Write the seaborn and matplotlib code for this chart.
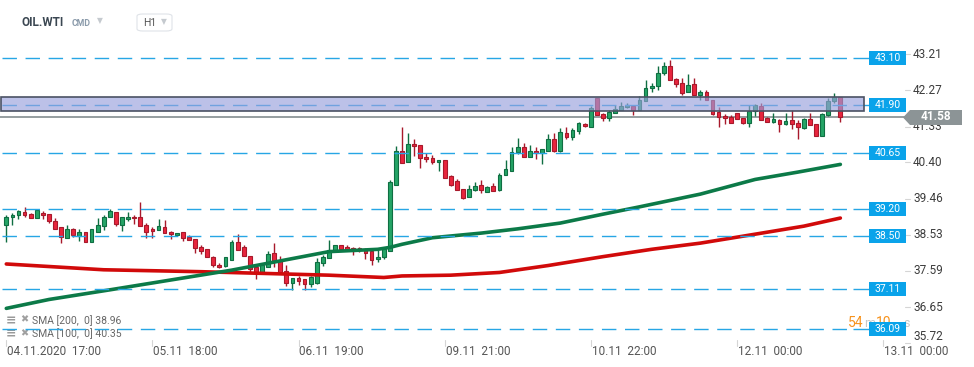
import matplotlib
matplotlib.use("Agg")
import matplotlib.pyplot as plt
from matplotlib.patches import Rectangle, Polygon, FancyBboxPatch
import seaborn as sns

# hourly OHLC for OIL.WTI, 04.11.2020 17:00 onwards
opens = [38.77, 38.98, 39.03, 39.11, 39.06, 38.95, 39.09, 39.06, 38.88, 38.72,
         38.44, 38.67, 38.49, 38.59, 38.33, 38.59, 38.75, 38.98, 39.11, 38.77,
         38.93, 39.00, 38.98, 38.77, 38.67, 38.64, 38.72, 38.59, 38.51, 38.59,
         38.46, 38.41, 38.20, 38.15, 37.94, 37.74, 37.71, 37.87, 38.33, 38.20,
         37.97, 37.68, 37.55, 37.68, 38.05, 37.84, 37.58, 37.29, 37.40, 37.37,
         37.24, 37.27, 37.79, 37.92, 38.10, 38.25, 38.20, 38.18, 38.18, 38.12,
         38.10, 37.89, 37.94, 38.10, 39.82, 40.71, 40.40, 40.87, 40.84, 40.53,
         40.51, 40.40, 40.46, 40.04, 39.91, 39.70, 39.50, 39.68, 39.81, 39.63,
         39.78, 39.68, 40.07, 40.17, 40.66, 40.79, 40.53, 40.71, 40.64, 40.71,
         41.00, 40.69, 41.16, 41.05, 41.21, 41.39, 41.31, 42.06, 41.65, 41.54,
         41.67, 41.75, 41.83, 41.85, 41.75, 41.98, 42.32, 42.37, 42.71, 42.90,
         42.55, 42.45, 42.22, 42.42, 42.16, 42.22, 42.03, 41.70, 41.60, 41.57,
         41.67, 41.54, 41.41, 41.73, 41.85, 41.54, 41.44, 41.49, 41.39, 41.49,
         41.41, 41.28, 41.52, 41.39, 41.08, 41.62, 41.98, 42.09]
highs = [39.04, 39.08, 39.17, 39.24, 39.08, 39.16, 39.13, 39.06, 38.95, 38.72,
         38.77, 38.69, 38.67, 38.59, 38.67, 38.95, 39.03, 39.19, 39.11, 38.98,
         39.11, 39.03, 39.37, 38.82, 38.72, 38.93, 38.90, 38.62, 38.56, 38.59,
         38.51, 38.41, 38.25, 38.15, 37.97, 37.79, 37.94, 38.38, 38.54, 38.25,
         37.97, 37.68, 37.79, 38.10, 38.31, 37.97, 37.74, 37.40, 37.47, 37.37,
         37.47, 37.92, 37.99, 38.38, 38.25, 38.25, 38.26, 38.22, 38.22, 38.18,
         38.13, 38.13, 38.20, 39.95, 40.82, 41.32, 41.16, 41.00, 40.84, 40.64,
         40.59, 40.46, 40.46, 40.07, 39.96, 39.70, 39.81, 39.89, 39.94, 39.78,
         39.86, 40.12, 40.46, 40.79, 41.03, 40.90, 40.84, 40.79, 40.74, 41.13,
         41.16, 41.28, 41.31, 41.28, 41.44, 41.41, 41.85, 42.06, 41.67, 41.75,
         41.88, 41.96, 41.93, 41.85, 42.11, 42.53, 42.45, 42.89, 43.00, 43.05,
         42.58, 42.58, 42.68, 42.58, 42.27, 42.27, 42.03, 41.83, 41.65, 41.62,
         41.67, 41.54, 41.88, 41.91, 41.93, 41.57, 41.67, 41.52, 41.67, 41.75,
         41.49, 41.54, 41.67, 41.39, 41.67, 42.06, 42.20, 42.09]
lows = [38.35, 38.79, 38.93, 38.98, 38.95, 38.95, 38.94, 38.82, 38.67, 38.31,
        38.44, 38.46, 38.36, 38.33, 38.33, 38.59, 38.64, 38.98, 38.76, 38.62,
        38.88, 38.80, 38.75, 38.44, 38.44, 38.64, 38.56, 38.41, 38.51, 38.36,
        38.38, 38.05, 38.02, 37.94, 37.70, 37.66, 37.68, 37.87, 38.12, 37.97,
        37.55, 37.37, 37.53, 37.68, 37.70, 37.55, 37.21, 37.09, 37.22, 37.10,
        37.17, 37.24, 37.71, 37.92, 38.10, 38.12, 38.12, 38.01, 38.08, 37.91,
        37.75, 37.83, 37.91, 38.10, 39.82, 40.38, 40.40, 40.56, 40.25, 40.40,
        40.35, 40.17, 39.99, 39.78, 39.68, 39.45, 39.50, 39.65, 39.60, 39.63,
        39.65, 39.65, 40.07, 40.17, 40.61, 40.53, 40.53, 40.48, 40.35, 40.69,
        40.66, 40.66, 41.00, 40.97, 41.13, 41.31, 41.31, 41.62, 41.47, 41.47,
        41.67, 41.75, 41.80, 41.62, 41.75, 41.98, 42.22, 42.27, 42.67, 42.53,
        42.35, 42.14, 42.22, 42.16, 42.03, 42.01, 41.62, 41.31, 41.39, 41.41,
        41.52, 41.39, 41.31, 41.60, 41.49, 41.44, 41.41, 41.18, 41.36, 41.26,
        41.00, 41.26, 41.36, 41.08, 41.08, 41.60, 41.93, 41.44]
closes = [38.98, 39.04, 39.13, 39.03, 38.95, 39.16, 39.03, 38.88, 38.67, 38.46,
          38.67, 38.51, 38.59, 38.33, 38.67, 38.77, 38.98, 39.13, 38.80, 38.98,
          39.00, 38.95, 38.75, 38.59, 38.62, 38.75, 38.56, 38.54, 38.56, 38.44,
          38.38, 38.18, 38.10, 37.94, 37.74, 37.68, 37.94, 38.33, 38.12, 37.97,
          37.63, 37.55, 37.74, 38.02, 37.84, 37.55, 37.29, 37.40, 37.34, 37.24,
          37.42, 37.81, 37.94, 38.12, 38.25, 38.17, 38.15, 38.15, 38.12, 38.05,
          37.87, 37.96, 38.15, 39.89, 40.69, 40.38, 40.87, 40.82, 40.51, 40.48,
          40.40, 40.46, 39.99, 39.81, 39.68, 39.47, 39.70, 39.78, 39.68, 39.76,
          39.65, 40.07, 40.22, 40.66, 40.79, 40.53, 40.71, 40.64, 40.74, 41.00,
          40.69, 41.18, 41.05, 41.23, 41.41, 41.34, 41.80, 41.62, 41.54, 41.70,
          41.78, 41.85, 41.88, 41.75, 42.01, 42.32, 42.37, 42.71, 42.90, 42.53,
          42.42, 42.19, 42.40, 42.16, 42.22, 42.01, 41.65, 41.57, 41.54, 41.41,
          41.52, 41.41, 41.73, 41.88, 41.49, 41.44, 41.52, 41.39, 41.47, 41.39,
          41.31, 41.52, 41.36, 41.08, 41.65, 41.98, 42.09, 41.58]

# moving averages (candle index -> value)
sma100_idx = [0, 7, 17, 37, 53, 61, 63, 65, 70, 78, 84, 91, 98, 104, 114, 123, 130, 137]
sma100_val = [36.62, 36.85, 37.10, 37.61, 38.09, 38.15, 38.20, 38.28, 38.45, 38.57,
              38.68, 38.83, 39.06, 39.25, 39.58, 39.96, 40.15, 40.35]
sma200_idx = [0, 16, 32, 53, 62, 65, 73, 81, 89, 98, 106, 114, 121, 131, 137]
sma200_val = [37.77, 37.62, 37.57, 37.48, 37.42, 37.46, 37.48, 37.55, 37.73, 37.96,
              38.15, 38.31, 38.49, 38.75, 38.96]

levels = [43.10, 41.90, 40.65, 39.20, 38.50, 37.11, 36.09]
zone = (41.73, 42.09)
last_price = 41.58
ytick_vals = [43.21, 42.27, 41.33, 40.40, 39.46, 38.53, 37.59, 36.65, 35.72]
xtick_idx = [0, 24, 48, 72, 96, 120, 144]
xtick_labels = ["04.11.2020  17:00", "05.11  18:00", "06.11  19:00", "09.11  21:00",
                "10.11  22:00", "12.11  00:00", "13.11  00:00"]

UP, UP_EDGE = "#25a466", "#0f6e42"
DOWN, DOWN_EDGE = "#e8253d", "#a8192b"
LEVEL = "#27a6e5"


def xpx(p):
    # pixel column -> candle index
    return (p - 6.3) / 6.088


def ypx(p):
    # pixel row -> price
    return 43.21 - (p - 54) / 38.6


sns.set_theme(style="white")
plt.rcParams["font.family"] = ["Roboto", "DejaVu Sans"]

fig = plt.figure(figsize=(9.74, 3.67), dpi=100)
ax = fig.add_axes([0, 22 / 367, 1, 305 / 367])
ax.set_xlim(xpx(0), xpx(974))
ax.set_ylim(ypx(345), ypx(40))
ax.axis("off")

# candles
idx = list(range(len(opens)))
up = [c >= o for o, c in zip(opens, closes)]
fills = [UP if u else DOWN for u in up]
edges = [UP_EDGE if u else DOWN_EDGE for u in up]
ax.vlines(idx, lows, highs, colors=edges, linewidth=1.0, zorder=3)
bottoms = [min(o, c) for o, c in zip(opens, closes)]
heights = [max(abs(c - o), 0.025) for o, c in zip(opens, closes)]
ax.bar(idx, heights, bottom=bottoms, width=0.62, color=fills, edgecolor=edges,
       linewidth=0.8, zorder=3)

# moving averages
sns.lineplot(x=sma200_idx, y=sma200_val, ax=ax, color="#d10a0a", linewidth=2.6,
             zorder=4)
sns.lineplot(x=sma100_idx, y=sma100_val, ax=ax, color="#0c7a48", linewidth=2.6,
             zorder=4)

# last price line
ax.hlines(last_price, xpx(0), xpx(905), color="#8e9698", linewidth=1.3, zorder=2)

# horizontal levels with their labels
ax.hlines(levels, xpx(2), xpx(853), colors=LEVEL, linewidth=1.0,
          linestyles=(0, (10.4, 6.2)), zorder=5)
ax.hlines(levels, xpx(853), xpx(869), colors=LEVEL, linewidth=1.0, zorder=5)
h = 7 / 38.6
for lv in levels:
    ax.add_patch(Rectangle((xpx(869), lv - h), xpx(906) - xpx(869), 2 * h,
                           facecolor="#0aa3ea", edgecolor="none", zorder=8))
    ax.text(xpx(887.5), lv, f"{lv:.2f}", color="white", fontsize=7.5,
            ha="center", va="center", zorder=9)

# zone box
ax.add_patch(Rectangle((xpx(1), zone[0]), xpx(864) - xpx(1), zone[1] - zone[0],
                       facecolor="#98a0dc", alpha=0.65, edgecolor="none", zorder=6))
ax.add_patch(Rectangle((xpx(1), zone[0]), xpx(864) - xpx(1), zone[1] - zone[0],
                       fill=False, edgecolor="#4a5263", linewidth=1.2, zorder=6))

# countdown (partly behind the 36.09 label)
ax.text(xpx(848), ypx(323), "54", color="#f7931e", fontsize=10, ha="left",
        va="center", zorder=7)
ax.text(xpx(864), ypx(324), "m", color="#c8c8c8", fontsize=9, ha="left",
        va="center", zorder=7)
ax.text(xpx(876), ypx(323), "10", color="#f7931e", fontsize=10, ha="left",
        va="center", zorder=7)
ax.text(xpx(903), ypx(324), "s", color="#c8c8c8", fontsize=9, ha="left",
        va="center", zorder=7)

# price axis (lowest label is pushed up a little, as on the chart)
for v in ytick_vals:
    ax.plot([xpx(905), xpx(910)], [v, v], color="#d5d5d5", linewidth=0.8,
            clip_on=False)
    ty = max(v, ypx(337))
    ax.text(xpx(913), ty, f"{v:.2f}", color="#3c3c3c", fontsize=8.5, ha="left",
            va="center", clip_on=False)

# current price tag
tag = [(xpx(903), ypx(117.5)), (xpx(910), ypx(110)), (xpx(962), ypx(110)),
       (xpx(962), ypx(125)), (xpx(910), ypx(125))]
ax.add_patch(Polygon(tag, closed=True, facecolor="#8c9496", edgecolor="none",
                     zorder=10, clip_on=False))
ax.text(xpx(936), last_price, f"{last_price:.2f}", color="white", fontsize=8.5,
        fontweight="bold", ha="center", va="center", zorder=11)

# time axis
for i, lab in zip(xtick_idx, xtick_labels):
    ax.plot([i, i], [ypx(340), ypx(345.5)], color="#d5d5d5", linewidth=0.8,
            clip_on=False)
    ax.text(i + 0.15, ypx(351.5), lab, color="#555555", fontsize=8.5, ha="left",
            va="center", clip_on=False)

# indicator legend
for row, txt in zip([320.5, 334], ["SMA [200,  0] 38.96", "SMA [100,  0] 40.35"]):
    ax.text(xpx(6), ypx(row), "\u2261", color="#9a9a9a", fontsize=9,
            fontweight="bold", ha="left", va="center", family="DejaVu Sans")
    ax.text(xpx(20), ypx(row - 1), "\u2716", color="#a0a0a0", fontsize=7,
            ha="left", va="center", family="DejaVu Sans")
    ax.text(xpx(32), ypx(row), txt, color="#666666", fontsize=7.5, ha="left",
            va="center")

# header
fig.text(21 / 974, 1 - 22 / 367, "OIL.WTI", color="#3b4752", fontsize=8.5,
         fontweight="bold", ha="left", va="center")
fig.text(72 / 974, 1 - 23 / 367, "CMD", color="#8b9bab", fontsize=6.3,
         fontweight="bold", ha="left", va="center")
fig.text(97 / 974, 1 - 21 / 367, "\u25bc", color="#c5cacf", fontsize=5.5,
         ha="left", va="center")
fig.add_artist(FancyBboxPatch((137 / 974, 1 - 31 / 367), 35 / 974, 17 / 367,
                              boxstyle="round,pad=0,rounding_size=0.006",
                              transform=fig.transFigure, facecolor="white",
                              edgecolor="#dfe3e8", linewidth=0.8))
fig.text(143 / 974, 1 - 22.5 / 367, "H1", color="#555555", fontsize=7.5,
         ha="left", va="center")
fig.text(161 / 974, 1 - 22 / 367, "\u25bc", color="#c5cacf", fontsize=5.5,
         ha="left", va="center")

fig.savefig("out.png", dpi=100)
plt.close(fig)
